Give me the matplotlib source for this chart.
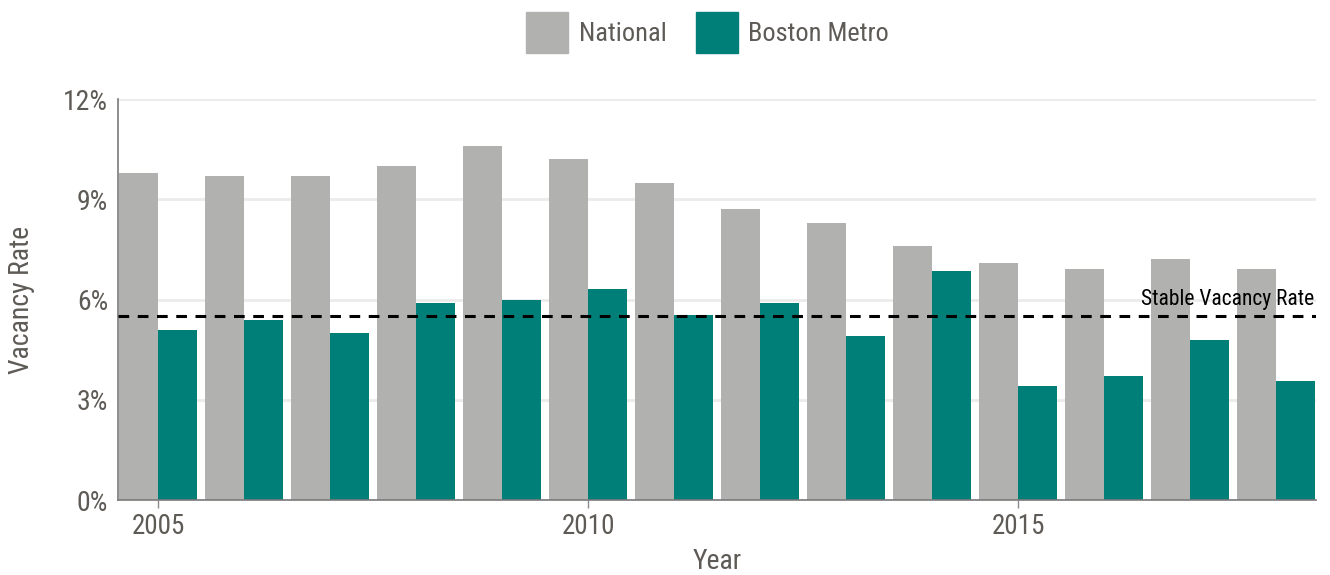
import matplotlib.pyplot as plt
from matplotlib.patches import Patch
from matplotlib import font_manager
import numpy as np

# data
years = np.arange(2005, 2019)
national = [9.8, 9.7, 9.7, 10.0, 10.6, 10.2, 9.5, 8.7, 8.3, 7.6, 7.1, 6.9, 7.2, 6.9]
boston = [5.1, 5.4, 5.0, 5.9, 6.0, 6.3, 5.55, 5.9, 4.9, 6.85, 3.4, 3.7, 4.8, 3.55]
stable_rate = 5.5
y_ticks = [0, 3, 6, 9, 12]
x_ticks = [2005, 2010, 2015]

gray = '#b1b1b0'
teal = '#007f79'
txt = '#5e5a55'

# pick a narrow font if one is around
names = {f.name for f in font_manager.fontManager.ttflist}
narrow = [n for n in ['Roboto Condensed', 'Liberation Sans Narrow'] if n in names]
if narrow:
    plt.rcParams['font.family'] = [narrow[0], 'DejaVu Sans']
else:
    plt.rcParams['font.family'] = ['DejaVu Sans']
    plt.rcParams['font.stretch'] = 'condensed'

fig = plt.figure(figsize=(13.3, 5.75), dpi=100)
ax = fig.add_axes([0.0887, 0.1304, 0.9008, 0.6974])

w = 0.453
ax.bar(years - w / 2, national, width=w, color=gray, zorder=2)
ax.bar(years + w / 2, boston, width=w, color=teal, zorder=2)
ax.axhline(stable_rate, color='black', lw=2.2, ls=(0, (3.5, 2.8)), zorder=3)
ax.text(years[-1] + w * 0.97, stable_rate + 0.2, 'Stable Vacancy Rate', ha='right', va='bottom',
        fontsize=15.5, color='black', zorder=4)

ax.set_xlim(years[0] - 0.47, years[-1] + 0.465)
ax.set_ylim(0, 12)
ax.set_yticks(y_ticks)
ax.set_yticklabels([f'{v}%' for v in y_ticks])
ax.set_xticks(x_ticks)
ax.tick_params(axis='y', length=0, pad=7, labelsize=20, labelcolor=txt)
ax.tick_params(axis='x', length=6, width=1, color='#8a8a8a', pad=3, labelsize=19.5, labelcolor=txt)
ax.grid(axis='y', color='#ebebeb', lw=2, zorder=0)
ax.set_axisbelow(True)
for s in ['top', 'right']:
    ax.spines[s].set_visible(False)
for s in ['left', 'bottom']:
    ax.spines[s].set_color('#7a7a7a')
    ax.spines[s].set_linewidth(1.2)
ax.set_xlabel('Year', fontsize=20, color=txt, labelpad=6)
ax.set_ylabel('Vacancy Rate', fontsize=20, color=txt, labelpad=20)

handles = [Patch(color=gray, label='National'), Patch(color=teal, label='Boston Metro')]
fig.legend(handles=handles, loc='upper center', bbox_to_anchor=(0.532, 1.02), ncol=2, frameon=False,
           fontsize=19, labelcolor=txt, handlelength=1.6, handleheight=2.0, handletextpad=0.4,
           columnspacing=1.1)

fig.savefig('out.png', dpi=100)
